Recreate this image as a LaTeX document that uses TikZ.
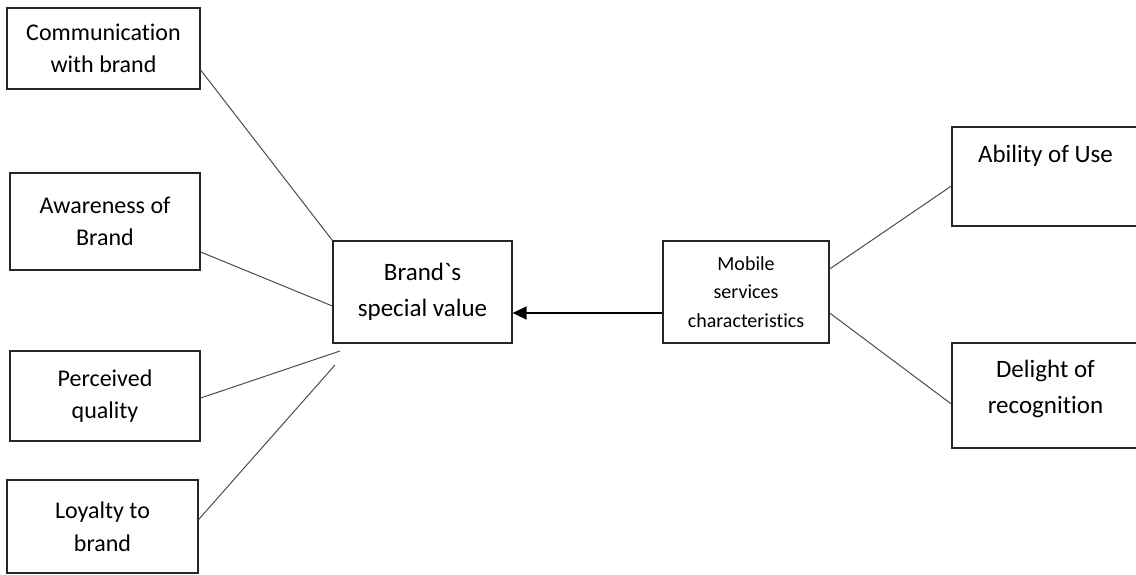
\documentclass[tikz,border=0pt]{standalone}
\usepackage{fontspec}
\setmainfont{Carlito}[Ligatures={TeX,NoCommon}]
\usetikzlibrary{arrows.meta}

\begin{document}
\begin{tikzpicture}[x=1pt,y=-1pt,
	box/.style={draw=black!85, line width=1.3pt, align=center, inner sep=0pt},
	link/.style={draw=black!70, line width=1pt},
	leftfont/.style={font=\fontsize{24}{32.5}\selectfont},
	bigfont/.style={font=\fontsize{25}{35.5}\selectfont}]

\useasboundingbox (0,0) rectangle (1136,574);

% left column
\node[box, leftfont, minimum width=193pt, minimum height=81pt] (comm) at (103.5,48.5) {Communication\\with brand};
\node[box, leftfont, minimum width=190pt, minimum height=97pt] (aware) at (105,221.5) {Awareness of\\Brand};
\node[box, leftfont, minimum width=190pt, minimum height=90pt] (qual) at (105,396) {Perceived\\quality};
\node[box, leftfont, minimum width=191pt, minimum height=93pt] (loyal) at (102.5,526.5) {Loyalty to\\brand};

% middle
\node[box, bigfont, minimum width=179pt, minimum height=102pt] (value) at (422.5,292) {Brand\textasciigrave s\\special value};
\node[box, font=\fontsize{20}{28.5}\selectfont, minimum width=166pt, minimum height=102pt] (mobile) at (746,292) {Mobile\\services\\characteristics};

% right column
\node[box, bigfont, minimum width=187pt, minimum height=99pt, text height=18pt, text depth=47pt] (use) at (1045.5,176.5) {Ability of Use};
\node[box, bigfont, minimum width=187pt, minimum height=105pt, text depth=17pt] (delight) at (1045.5,395.5) {Delight of\\recognition};

\coordinate (qend) at (340,351);
\coordinate (lend) at (335,365);

\draw[link] ([yshift=-21.5pt]comm.east) -- (value.north west);
\draw[link] ([yshift=-30.5pt]aware.east) -- ([yshift=-14pt]value.west);
\draw[link] ([yshift=-2pt]qual.east) -- (qend);
\draw[link] ([yshift=7pt]loyal.east) -- (lend);

\draw[line width=1.5pt, -{Triangle[length=14pt, width=13pt]}] ([yshift=-21pt]mobile.west) -- ([yshift=-21pt]value.east);

\draw[link] ([yshift=23pt]mobile.east) -- ([yshift=-9.5pt]use.west);
\draw[link] ([yshift=-21pt]mobile.east) -- ([yshift=-8.5pt]delight.west);
\end{tikzpicture}
\end{document}
